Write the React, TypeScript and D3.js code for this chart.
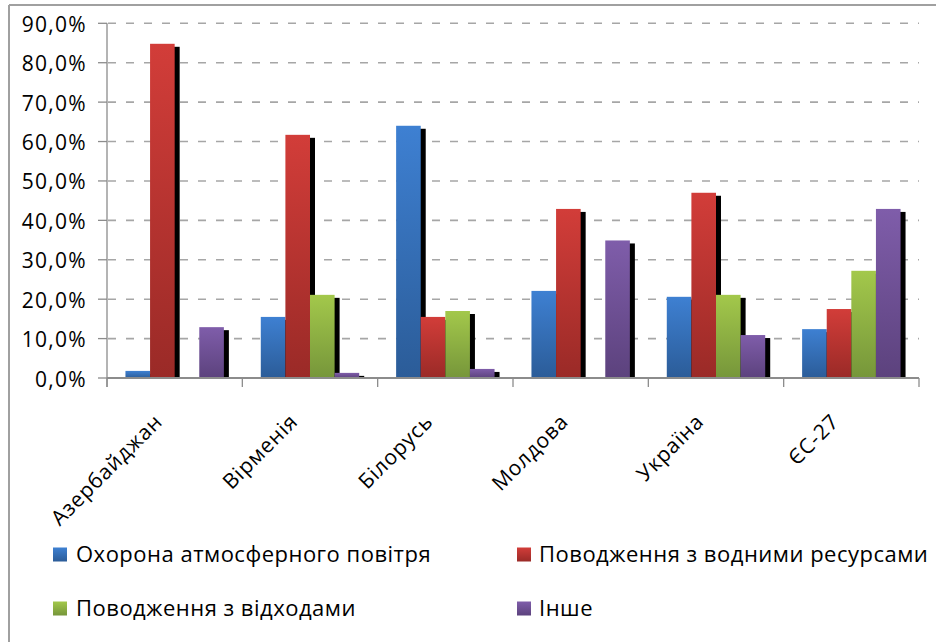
import React from "react";
import * as d3 from "d3";

const categories = ["Азербайджан", "Вірменія", "Білорусь", "Молдова", "Україна", "ЄС-27"];
const seriesNames = [
  "Охорона атмосферного повітря",
  "Поводження з водними ресурсами",
  "Поводження з відходами",
  "Інше",
];
const airValues = [1.8, 15.5, 64.0, 22.1, 20.6, 12.4];
const waterValues = [84.8, 61.7, 15.5, 42.9, 47.0, 17.5];
const wasteValues = [0, 21.1, 17.0, 0, 21.1, 27.2];
const otherValues = [12.9, 1.3, 2.3, 34.9, 10.9, 42.9];
const yTicks = [0, 10, 20, 30, 40, 50, 60, 70, 80, 90];

const seriesValues = [airValues, waterValues, wasteValues, otherValues];
const colorTop = ["#3e80d2", "#d23d39", "#a3c84b", "#7f5daa"];
const colorBottom = ["#2b5c98", "#9a2a27", "#76963a", "#5c427d"];

const W = 936;
const H = 642;
const plotLeft = 107;
const plotRight = 919;
const plotTop = 23.3;
const plotBottom = 378;
const FONT = "'Open Sans', 'DejaVu Sans', sans-serif";

export default function App() {
  const x = d3.scaleBand<string>().domain(categories).range([plotLeft, plotRight]).padding(0);
  const xs = d3
    .scaleBand<number>()
    .domain(d3.range(seriesNames.length))
    .range([0, x.bandwidth()])
    .paddingInner(0)
    .paddingOuter(0.75);
  const y = d3.scaleLinear().domain([0, 90]).range([plotBottom, plotTop]);
  const fmt = (v: number) => d3.format(".1f")(v).replace(".", ",") + "%";

  const legendPos = [
    { sx: 53, tx: 76, y: 562 },
    { sx: 517, tx: 539, y: 562 },
    { sx: 53, tx: 76, y: 616 },
    { sx: 517, tx: 539, y: 616 },
  ];

  const boundaries = categories.map((c) => x(c) as number).concat([plotRight]);

  return (
    <svg
      width={W}
      height={H}
      style={{ position: "absolute", left: 0, top: 0, background: "#fff" }}
      fontFamily={FONT}
    >
      <defs>
        {colorTop.map((c, i) => (
          <linearGradient key={i} id={`g${i}`} x1="0" y1="0" x2="0" y2="1">
            <stop offset="0" stopColor={c} />
            <stop offset="1" stopColor={colorBottom[i]} />
          </linearGradient>
        ))}
        <clipPath id="plotClip">
          <rect x={plotLeft} y={0} width={plotRight - plotLeft + 20} height={plotBottom} />
        </clipPath>
      </defs>
      <rect x={0} y={0} width={W} height={H} fill="#fff" />
      {/* outer border */}
      <line x1={9} y1={5} x2={W + 5} y2={5} stroke="#a0a0a0" strokeWidth={2} />
      <line x1={9} y1={5} x2={9} y2={H + 5} stroke="#a0a0a0" strokeWidth={2} />

      {/* gridlines */}
      {yTicks
        .filter((t) => t > 0)
        .map((t) => (
          <line
            key={t}
            x1={plotLeft}
            x2={plotRight}
            y1={y(t)}
            y2={y(t)}
            stroke="#a6a6a6"
            strokeWidth={1.6}
            strokeDasharray="8 10"
            strokeDashoffset={-1}
          />
        ))}

      {/* bars with shadows */}
      <g clipPath="url(#plotClip)">
        {seriesValues.map((vals, s) => (
          <g key={s}>
            {vals.map((v, i) => {
              const bx = (x(categories[i]) as number) + (xs(s) as number);
              const bw = xs.bandwidth();
              const top = y(v);
              const h = plotBottom - top;
              if (h <= 0) return null;
              return (
                <g key={i}>
                  <rect
                    x={bx + 5}
                    y={top + 3}
                    width={bw}
                    height={Math.max(0, plotBottom - top - 3)}
                    fill="#000"
                  />
                  <rect x={bx} y={top} width={bw} height={h} fill={`url(#g${s})`} />
                </g>
              );
            })}
          </g>
        ))}
      </g>

      {/* y axis */}
      <line x1={plotLeft} x2={plotLeft} y1={plotTop} y2={plotBottom + 9} stroke="#8c8c8c" strokeWidth={1.3} />
      {yTicks.map((t) => (
        <g key={t}>
          <line x1={plotLeft - 9} x2={plotLeft} y1={y(t)} y2={y(t)} stroke="#8c8c8c" strokeWidth={1.3} />
          <text x={87} y={y(t) + 8.5} textAnchor="end" fontSize={21} letterSpacing={1.3} fill="#000">
            {fmt(t)}
          </text>
        </g>
      ))}

      {/* x axis */}
      <line x1={plotLeft} x2={plotRight} y1={plotBottom} y2={plotBottom} stroke="#8c8c8c" strokeWidth={1.8} />
      {boundaries.map((bx, i) => (
        <line key={i} x1={bx} x2={bx} y1={plotBottom} y2={plotBottom + 9} stroke="#8c8c8c" strokeWidth={1.3} />
      ))}
      {categories.map((c) => {
        const cx = (x(c) as number) + x.bandwidth() / 2 - 11;
        const cy = 423;
        return (
          <text
            key={c}
            x={cx}
            y={cy}
            textAnchor="end"
            fontSize={21}
            letterSpacing={0.8}
            fill="#000"
            transform={`rotate(-45 ${cx} ${cy})`}
          >
            {c}
          </text>
        );
      })}

      {/* legend */}
      {seriesNames.map((n, i) => {
        const p = legendPos[i];
        return (
          <g key={n}>
            <rect x={p.sx} y={p.y - 14.5} width={14} height={14} fill={`url(#g${i})`} />
            <text x={p.tx} y={p.y} fontSize={22} letterSpacing={0.5} fill="#000">
              {n}
            </text>
          </g>
        );
      })}
    </svg>
  );
}
